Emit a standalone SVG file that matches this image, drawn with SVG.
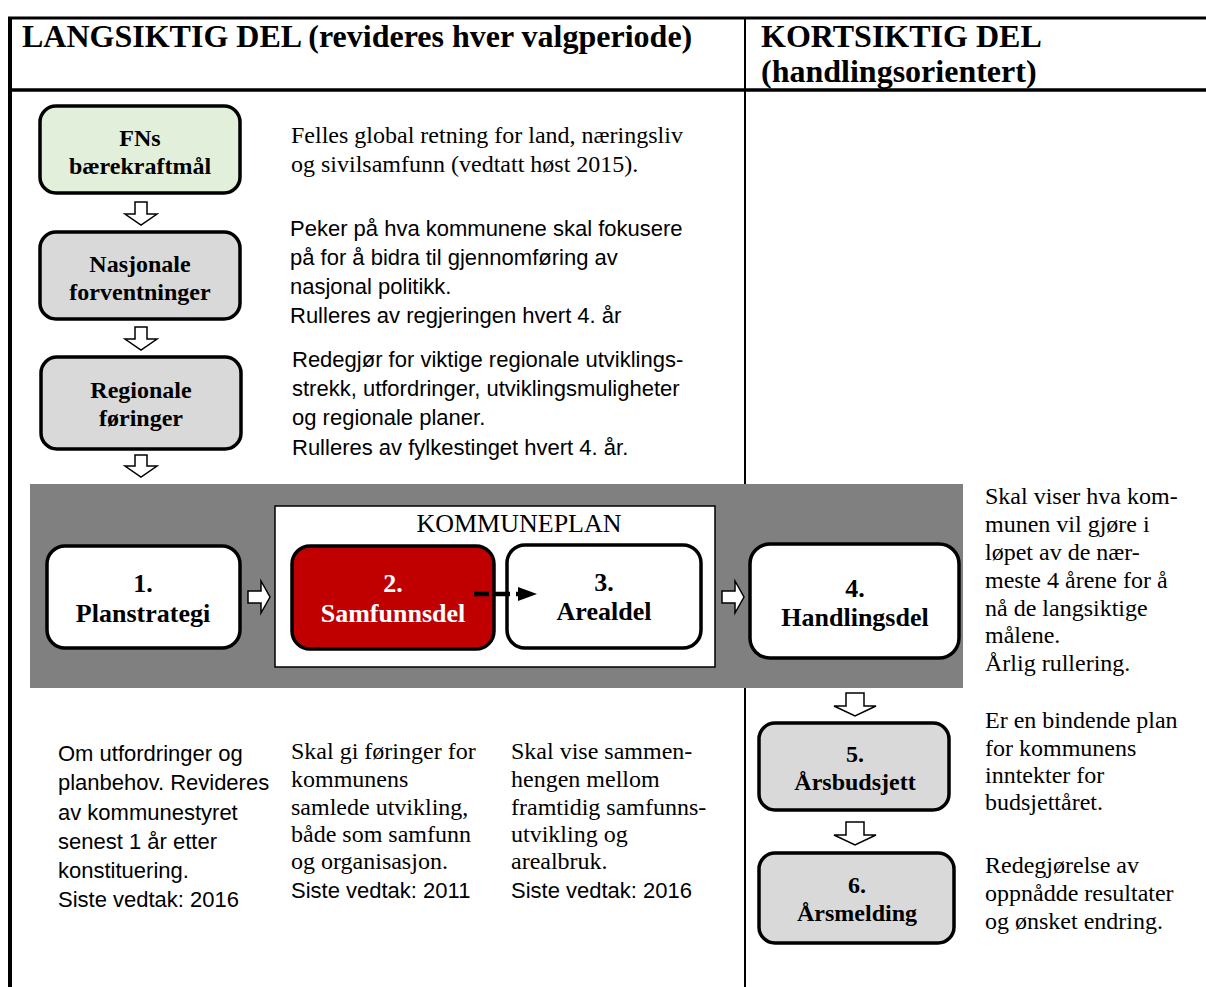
<svg xmlns="http://www.w3.org/2000/svg" width="1206" height="987" viewBox="0 0 1206 987">
<style>
.hdr{font-family:"Liberation Serif",serif;font-weight:bold;font-size:32px;fill:#000}
.lbl{font-family:"Liberation Serif",serif;font-weight:bold;font-size:24px;text-anchor:middle;fill:#000}
.lbl2{font-family:"Liberation Serif",serif;font-weight:bold;font-size:26px;text-anchor:middle;fill:#000}
.ser{font-family:"Liberation Serif",serif;font-size:24px;fill:#000}
.san{font-family:"Liberation Sans",Arial,sans-serif;font-size:22px;fill:#000}
.box{stroke:#000;stroke-width:3.5}
.harrow{fill:#fff;stroke:#000;stroke-width:1.5}
</style>
<rect width="1206" height="987" fill="#fff"/>
<g id="frame">
<line x1="8" y1="18" x2="1206" y2="18" stroke="#000" stroke-width="3"/>
<line x1="10" y1="17" x2="10" y2="987" stroke="#000" stroke-width="4"/>
<line x1="8" y1="90" x2="1206" y2="90" stroke="#000" stroke-width="3.5"/>
<line x1="745" y1="18" x2="745" y2="987" stroke="#000" stroke-width="2"/>
</g>
<g id="headers">
<text class="hdr" x="22" y="47">LANGSIKTIG DEL (revideres hver valgperiode)</text>
<text class="hdr" x="761" y="47">KORTSIKTIG DEL</text>
<text class="hdr" x="761" y="82">(handlingsorientert)</text>
</g>
<g id="band">
<rect x="30" y="484" width="933" height="204" fill="#808080"/>
</g>
<g id="kommuneplan">
<rect x="275" y="506" width="440" height="161" fill="#fff" stroke="#000" stroke-width="1.5"/>
<text x="519" y="532" font-family="Liberation Serif,serif" font-size="26" text-anchor="middle">KOMMUNEPLAN</text>
</g>
<g id="node-fns">
<rect class="box" x="40" y="106" width="200" height="87" rx="16" fill="#e2efda"/>
<text class="lbl" x="140" y="146">FNs</text>
<text class="lbl" x="140" y="174">bærekraftmål</text>
</g>
<g id="node-nasjonale">
<rect class="box" x="40" y="232" width="200" height="87" rx="16" fill="#d9d9d9"/>
<text class="lbl" x="140" y="272">Nasjonale</text>
<text class="lbl" x="140" y="300">forventninger</text>
</g>
<g id="node-regionale">
<rect class="box" x="41" y="357" width="200" height="92" rx="16" fill="#d9d9d9"/>
<text class="lbl" x="141" y="398">Regionale</text>
<text class="lbl" x="141" y="426">føringer</text>
</g>
<g id="node-planstrategi">
<rect class="box" x="47" y="546" width="193" height="102" rx="18" fill="#fff"/>
<text class="lbl2" x="143" y="592">1.</text>
<text class="lbl2" x="143" y="622">Planstrategi</text>
</g>
<g id="node-samfunnsdel">
<rect class="box" x="292" y="546" width="202" height="103" rx="18" fill="#c00000"/>
<text class="lbl2" x="393" y="592" style="fill:#fff">2.</text>
<text class="lbl2" x="393" y="622" style="fill:#fff">Samfunnsdel</text>
</g>
<g id="node-arealdel">
<rect class="box" x="507" y="545" width="194" height="103" rx="18" fill="#fff"/>
<text class="lbl2" x="604" y="591">3.</text>
<text class="lbl2" x="604" y="620">Arealdel</text>
</g>
<g id="node-handlingsdel">
<rect class="box" x="750" y="544" width="209" height="114" rx="20" fill="#fff"/>
<text class="lbl2" x="855" y="597">4.</text>
<text class="lbl2" x="855" y="626">Handlingsdel</text>
</g>
<g id="node-arsbudsjett">
<rect class="box" x="759" y="723" width="190" height="87" rx="16" fill="#d9d9d9"/>
<text class="lbl" x="855" y="762">5.</text>
<text class="lbl" x="855" y="790">Årsbudsjett</text>
</g>
<g id="node-arsmelding">
<rect class="box" x="759" y="853" width="195" height="90" rx="16" fill="#d9d9d9"/>
<text class="lbl" x="857" y="893">6.</text>
<text class="lbl" x="857" y="921">Årsmelding</text>
</g>
<g id="connectors">
<polygon class="harrow" points="135,202 147,202 147,214 157,214 141,225 125,214 135,214"/>
<polygon class="harrow" points="135,327 147,327 147,339 157,339 141,350 125,339 135,339"/>
<polygon class="harrow" points="135,455 147,455 147,466 157,466 141,477 125,466 135,466"/>
<polygon class="harrow" points="248,591 261,591 261,581 270,597 261,613 261,603 248,603"/>
<polygon class="harrow" points="722,591 735,591 735,581 744,597 735,613 735,603 722,603"/>
<polygon class="harrow" points="846,693 864,693 864,706 876,706 855,716 834,706 846,706"/>
<polygon class="harrow" points="846,822 864,822 864,835 876,835 855,845 834,835 846,835"/>
<line x1="474" y1="594" x2="520" y2="594" stroke="#000" stroke-width="4.5" stroke-dasharray="15 6"/>
<polygon points="518,587 537,594 518,601" fill="#000"/>
</g>
<g id="notes">
<text class="ser" x="291" y="143">Felles global retning for land, næringsliv</text>
<text class="ser" x="291" y="172">og sivilsamfunn (vedtatt høst 2015).</text>
<text class="san" x="290" y="236">Peker på hva kommunene skal fokusere</text>
<text class="san" x="290" y="265">på for å bidra til gjennomføring av</text>
<text class="san" x="290" y="294">nasjonal politikk.</text>
<text class="san" x="290" y="323">Rulleres av regjeringen hvert 4. år</text>
<text class="san" x="292" y="367">Redegjør for viktige regionale utviklings-</text>
<text class="san" x="292" y="396">strekk, utfordringer, utviklingsmuligheter</text>
<text class="san" x="292" y="425">og regionale planer.</text>
<text class="san" x="292" y="455">Rulleres av fylkestinget hvert 4. år.</text>
<text class="ser" x="985" y="504">Skal viser hva kom-</text>
<text class="ser" x="985" y="532">munen vil gjøre i</text>
<text class="ser" x="985" y="560">løpet av de nær-</text>
<text class="ser" x="985" y="588">meste 4 årene for å</text>
<text class="ser" x="985" y="616">nå de langsiktige</text>
<text class="ser" x="985" y="643">målene.</text>
<text class="ser" x="985" y="671">Årlig rullering.</text>
<text class="ser" x="985" y="728">Er en bindende plan</text>
<text class="ser" x="985" y="756">for kommunens</text>
<text class="ser" x="985" y="783">inntekter for</text>
<text class="ser" x="985" y="810">budsjettåret.</text>
<text class="ser" x="985" y="873">Redegjørelse av</text>
<text class="ser" x="985" y="901">oppnådde resultater</text>
<text class="ser" x="985" y="929">og ønsket endring.</text>
<text class="san" x="58" y="761">Om utfordringer og</text>
<text class="san" x="58" y="790">planbehov. Revideres</text>
<text class="san" x="58" y="820">av kommunestyret</text>
<text class="san" x="58" y="849">senest 1 år etter</text>
<text class="san" x="58" y="878">konstituering.</text>
<text class="san" x="58" y="907">Siste vedtak: 2016</text>
<text class="ser" x="291" y="759">Skal gi føringer for</text>
<text class="ser" x="291" y="787">kommunens</text>
<text class="ser" x="291" y="815">samlede utvikling,</text>
<text class="ser" x="291" y="842">både som samfunn</text>
<text class="ser" x="291" y="869">og organisasjon.</text>
<text class="san" x="291" y="898">Siste vedtak: 2011</text>
<text class="ser" x="511" y="759">Skal vise sammen-</text>
<text class="ser" x="511" y="787">hengen mellom</text>
<text class="ser" x="511" y="815">framtidig samfunns-</text>
<text class="ser" x="511" y="842">utvikling og</text>
<text class="ser" x="511" y="869">arealbruk.</text>
<text class="san" x="511" y="898">Siste vedtak: 2016</text>
</g>
</svg>
